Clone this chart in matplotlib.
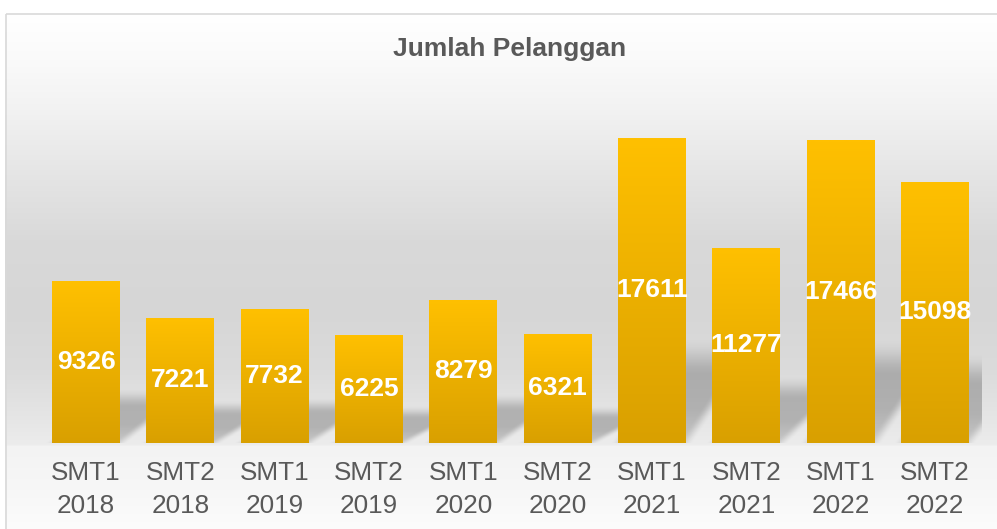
import numpy as np
import matplotlib.pyplot as plt
from matplotlib.patches import Rectangle

plt.rcParams['font.family'] = ['Liberation Sans', 'DejaVu Sans']

# Data
periods = ['SMT1\n2018', 'SMT2\n2018', 'SMT1\n2019', 'SMT2\n2019', 'SMT1\n2020',
           'SMT2\n2020', 'SMT1\n2021', 'SMT2\n2021', 'SMT1\n2022', 'SMT2\n2022']
customers = [9326, 7221, 7732, 6225, 8279, 6321, 17611, 11277, 17466, 15098]

W, H = 997, 529
fig = plt.figure(figsize=(W / 100, H / 100), dpi=100)

# background of the chart area (vertical grey gradient + light frame)
bg = fig.add_axes([0, 0, 1, 1])
bg.axis('off')
stops_y = [13, 60, 110, 180, 240, 310, 370, 420, 444, 446, 490, 529]
stops_c = [255, 250, 242, 228, 217, 214, 219, 230, 236, 243, 247, 252]
rows = np.interp(np.arange(13, H), stops_y, stops_c) / 255.0
grad = np.repeat(rows[:, None, None], 3, axis=2)
bg.imshow(grad, extent=(5, W, H, 13), aspect='auto', interpolation='bilinear')
bg.add_patch(Rectangle((5.5, 13.5), W, H, fill=False, edgecolor='#d9d9d9', lw=1.2))
bg.set_xlim(0, W)
bg.set_ylim(H, 0)

# plot area
ax = fig.add_axes([38.85 / W, 86 / H, 943.3 / W, 346.4 / H])
ax.patch.set_alpha(0)
x = np.arange(len(customers))
bar_w = 0.72


def soft(d, bw):
    t = np.clip(0.5 + d / bw, 0, 1)
    return t * t * (3 - 2 * t)


# perspective shadow behind each bar (soft, sheared copy of the bar)
shear = 0.6
for xi, v in zip(x, customers):
    x0 = xi - bar_w / 2
    hk = v * 0.28
    gx = np.linspace(x0 - 0.2, x0 + bar_w + shear * 1.3 + 0.2, 260)
    gt = np.linspace(0, 1.3, 120)
    X, T = np.meshgrid(gx, gt)
    u = X - x0 - shear * T
    alpha = (soft(u, 0.16) * soft(bar_w - u, 0.16) * soft(1 - T, 0.45)
             * (0.65 + 0.35 * np.clip(T / 0.4, 0, 1)))
    img = np.zeros((len(gt), len(gx), 4))
    img[..., :3] = 0.45
    img[..., 3] = 0.45 * alpha
    ax.imshow(img, extent=(gx[0], gx[-1], 0, hk * 1.3), origin='lower',
              aspect='auto', zorder=1, interpolation='bilinear')

bars = ax.bar(x, customers, width=bar_w, color='#FFC000', zorder=2)

# gold gradient on each bar
bar_grad = np.linspace([1.0, 192 / 255, 0.0], [217 / 255, 160 / 255, 0.0], 100)[:, None, :]
for b in bars:
    im = ax.imshow(bar_grad, extent=(b.get_x(), b.get_x() + b.get_width(), 0, b.get_height()),
                   aspect='auto', zorder=3, interpolation='bilinear')
    im.set_clip_path(b)

for xi, v in zip(x, customers):
    ax.text(xi, v / 2, str(v), ha='center', va='center', color='white',
            fontsize=19, fontweight='bold', zorder=4)

ax.set_xlim(-0.5, 9.5)
ax.set_ylim(0, 20000)
ax.set_xticks(x, periods, fontsize=18.8, color='#595959', linespacing=1.45)
ax.tick_params(axis='x', length=0, pad=13)
ax.set_yticks([])
for sp in ax.spines.values():
    sp.set_visible(False)

fig.text(510 / W, 1 - 49 / H, 'Jumlah Pelanggan', ha='center', va='center',
         fontsize=19, fontweight='bold', color='#595959')

fig.savefig('out.png', dpi=100)
